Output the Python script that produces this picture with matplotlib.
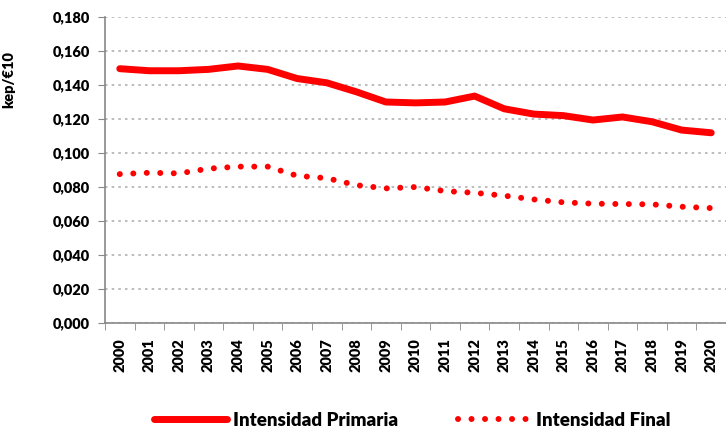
import matplotlib.pyplot as plt
from matplotlib.ticker import FuncFormatter, MultipleLocator
import numpy as np

years = [str(y) for y in range(2000, 2021)]
primaria = [0.1496, 0.1484, 0.1484, 0.1492, 0.1512, 0.1492, 0.1438, 0.1413, 0.1360, 0.1300,
            0.1295, 0.1300, 0.1335, 0.1260, 0.1229, 0.1220, 0.1194, 0.1212, 0.1184, 0.1135, 0.1119]
final = [0.0876, 0.0884, 0.0880, 0.0908, 0.0920, 0.0920, 0.0866, 0.0852, 0.0811, 0.0792,
         0.0800, 0.0776, 0.0766, 0.0749, 0.0727, 0.0710, 0.0702, 0.0700, 0.0698, 0.0684, 0.0676]

plt.rcParams['font.family'] = ['Lato', 'DejaVu Sans']
plt.rcParams['font.weight'] = 'heavy'

fig = plt.figure(figsize=(7.26, 4.32), dpi=100)
ax = fig.add_axes([0.1446, 0.2523, 0.8554, 0.7083])

x = np.arange(len(years))
ax.plot(x, primaria, color='#ff0000', lw=5, solid_capstyle='round', label='Intensidad Primaria')
ax.plot(x, final, color='#ff0000', lw=4.3, linestyle=(0, (0.01, 2.25)),
        dash_capstyle='round', label='Intensidad Final')

ax.set_xlim(-0.5, len(years) - 0.5)
ax.set_ylim(0, 0.18)
ax.yaxis.set_major_locator(MultipleLocator(0.02))
ax.yaxis.set_major_formatter(FuncFormatter(lambda v, p: f'{v:.3f}'.replace('.', ',')))
ax.grid(axis='y', color='#b0b0b0', linestyle=(0, (1.5, 2.5)), lw=1.2)
ax.set_axisbelow(True)

ax.set_xticks(x)
ax.set_xticklabels(years, rotation=90, fontsize=10.5, fontweight='heavy')
ax.set_xticks(np.arange(-0.5, len(years), 1), minor=True)
ax.tick_params(axis='x', which='major', length=0, pad=11)
ax.tick_params(axis='x', which='minor', length=5, color='#888888')
ax.tick_params(axis='y', length=5, color='#888888', labelsize=10.5, pad=6)
for lbl in ax.get_yticklabels():
    lbl.set_fontweight('heavy')

for s in ['top', 'right']:
    ax.spines[s].set_visible(False)
for s in ['left', 'bottom']:
    ax.spines[s].set_color('#888888')
    ax.spines[s].set_linewidth(1.2)

ax.set_ylabel('kep/€10', fontsize=10.5, fontweight='heavy')
ax.yaxis.set_label_coords(-0.145, 0.797)

fig.legend(loc='center', bbox_to_anchor=(0.568, 0.027), ncol=2, frameon=False,
           handlelength=3.9, handletextpad=0.3, columnspacing=3.2,
           prop={'weight': 'heavy', 'size': 13.5})

fig.savefig('out.png', dpi=100)
